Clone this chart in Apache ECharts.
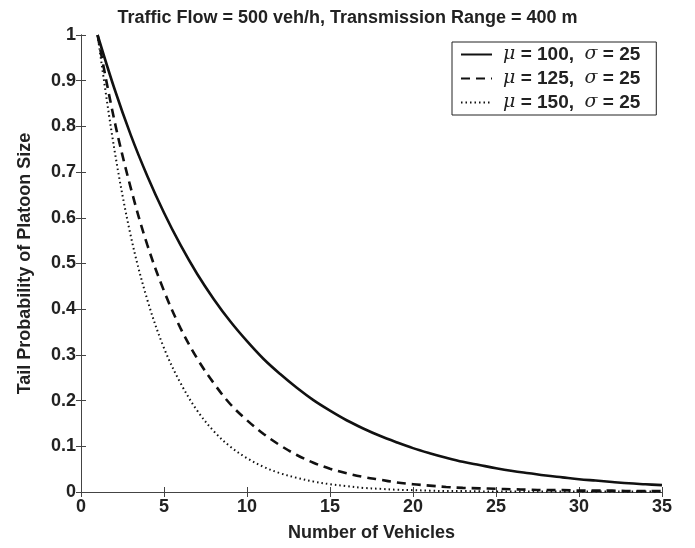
<!DOCTYPE html>
<html>
<head>
<meta charset="utf-8">
<script src="https://cdn.jsdelivr.net/npm/echarts@6/dist/echarts.min.js"></script>
<style>html,body{margin:0;padding:0;background:#fff}#c{width:695px;height:548px}</style>
</head>
<body>
<div id="c"></div>
<script>
var titleText = 'Traffic Flow = 500 veh/h, Transmission Range = 400 m';
var xName = 'Number of Vehicles';
var yName = 'Tail Probability of Platoon Size';
var vehicles = [1,2,3,4,5,6,7,8,9,10,11,12,13,14,15,16,17,18,19,20,21,22,23,24,25,26,27,28,29,30,31,32,33,34,35];
var seriesNames = ['μ = 100,  σ = 25', 'μ = 125,  σ = 25', 'μ = 150,  σ = 25'];
var mu100 = [1.000,0.884,0.781,0.691,0.611,0.540,0.477,0.422,0.373,0.330,0.291,0.258,0.228,0.201,0.178,0.157,0.139,0.123,0.109,0.096,0.085,0.075,0.066,0.059,0.052,0.046,0.041,0.036,0.032,0.028,0.025,0.022,0.019,0.017,0.015];
var mu125 = [1.000,0.815,0.665,0.540,0.440,0.358,0.292,0.238,0.192,0.157,0.127,0.102,0.081,0.064,0.051,0.041,0.033,0.027,0.021,0.017,0.014,0.011,0.009,0.008,0.007,0.006,0.005,0.004,0.004,0.003,0.003,0.003,0.002,0.002,0.002];
var mu150 = [1.000,0.752,0.560,0.420,0.315,0.238,0.178,0.133,0.099,0.074,0.055,0.041,0.031,0.023,0.017,0.013,0.009,0.007,0.005,0.004,0.003,0.002,0.002,0.0015,0.001,0.001,0.001,0.001,0.001,0.001,0.001,0.001,0.001,0.001,0.001];

function pairs(ys){ return vehicles.map(function(x,i){ return [x, ys[i]]; }); }

var FONT = 'Liberation Sans Narrow, Liberation Sans, Arial, sans-serif';
var axisColor = '#444';
var chart = echarts.init(document.getElementById('c'), null, {renderer:'canvas'});
var tickStyle = {show:true, inside:true, length:5, lineStyle:{color:axisColor, width:1}};
var option = {
  animation:false,
  backgroundColor:'#fff',
  title:{text:titleText, left:'center', top:4, textStyle:{fontFamily:FONT, fontWeight:'bold', fontSize:18, color:'#222'}},
  grid:{left:81, right:33, top:35, bottom:56, containLabel:false},
  legend:{
    orient:'vertical', left:452, top:42, padding:[3,16,3,8], itemGap:5,
    borderColor:'#222', borderWidth:1, backgroundColor:'#fff',
    itemWidth:31, itemHeight:12,
    itemStyle:{opacity:0},
    data:seriesNames,
    formatter:function(n){ return '{g|}' + n.replace('μ','{i|μ}').replace('σ','{i|σ}'); },
    textStyle:{fontFamily:FONT, fontWeight:'bold', fontSize:19, lineHeight:19, color:'#222',
      rich:{g:{width:6}, i:{fontFamily:'DejaVu Serif, serif', fontStyle:'italic', fontWeight:'normal', fontSize:19, color:'#222'}}}
  },
  xAxis:[
    {type:'value', min:0, max:35, interval:5, position:'bottom',
     name:xName, nameLocation:'middle', nameGap:32,
     nameTextStyle:{fontFamily:FONT, fontWeight:'bold', fontSize:18, color:'#222'},
     axisLine:{show:true, lineStyle:{color:axisColor, width:1}}, axisTick:tickStyle,
     axisLabel:{fontFamily:FONT, fontWeight:'bold', fontSize:18, color:'#222', margin:6},
     splitLine:{show:false}},
    {type:'value', min:0, max:35, interval:5, position:'top',
     axisLine:{show:true, lineStyle:{color:axisColor, width:1}}, axisTick:tickStyle,
     axisLabel:{show:false}, splitLine:{show:false}}
  ],
  yAxis:[
    {type:'value', min:0, max:1, interval:0.1, position:'left',
     name:yName, nameLocation:'middle', nameGap:47,
     nameTextStyle:{fontFamily:FONT, fontWeight:'bold', fontSize:18, color:'#222'},
     axisLine:{show:true, lineStyle:{color:axisColor, width:1}}, axisTick:tickStyle,
     axisLabel:{fontFamily:FONT, fontWeight:'bold', fontSize:18, color:'#222', margin:5},
     splitLine:{show:false}},
    {type:'value', min:0, max:1, interval:0.1, position:'right',
     axisLine:{show:true, lineStyle:{color:axisColor, width:1}}, axisTick:tickStyle,
     axisLabel:{show:false}, splitLine:{show:false}}
  ],
  series:[
    {name:seriesNames[0], type:'line', data:pairs(mu100), symbol:'none', smooth:0.35,
     lineStyle:{color:'#111', width:2.6, type:'solid'}, itemStyle:{color:'#111'}},
    {name:seriesNames[1], type:'line', data:pairs(mu125), symbol:'none', smooth:0.35,
     lineStyle:{color:'#111', width:2.6, type:[9,6]}, itemStyle:{color:'#111'}},
    {name:seriesNames[2], type:'line', data:pairs(mu150), symbol:'none', smooth:0.35,
     lineStyle:{color:'#111', width:2, type:[1.5,3]}, itemStyle:{color:'#111'}}
  ]
};
chart.setOption(option);
</script>
</body>
</html>
